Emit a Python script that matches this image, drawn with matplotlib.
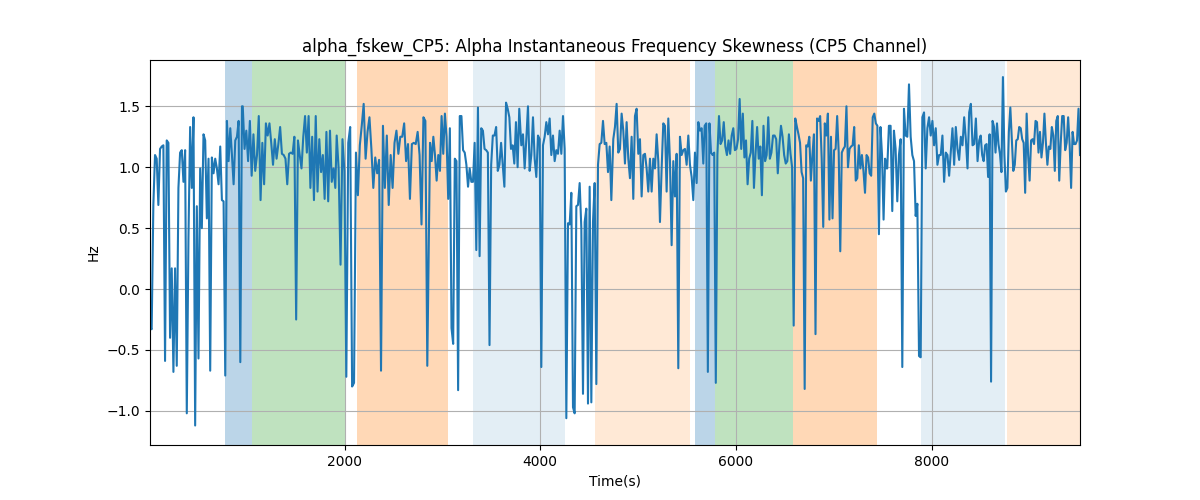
import numpy as np
import matplotlib
matplotlib.use("Agg")
import matplotlib.pyplot as plt

# signal values, in time order, in ten stretches;
# each stretch has its first/last time stamp (samples evenly spaced inside it)
piece_t0 = [11, 959, 1919, 2873, 3806, 4746, 5680, 6623, 7546, 8501]
piece_t1 = [951, 1905, 2845, 3785, 4726, 5666, 6606, 7540, 8486, 9516]

piece_values = [
    [-0.315, -0.33, 0.69, 1.1, 1.07, 0.69, 1.15, 1.17, 1.18, -0.59, 1.22, 1.2, -0.4, 0.17,
     -0.68, 0.17, -0.63, 0.83, 1.12, 1.14, 0.88, 1.14, -1.02, 0.42, 1.33, 0.83, 1.41, -1.12,
     0.68, -0.57, 0.99, 0.5, 1.27, 1.22, 0.58, 1.07, -0.67, 1.08, 0.95, 1.07, 0.99, 0.86,
     1.17, 0.73, 0.72, -0.71, 1.38, 1.05, 1.32, 1.1, 0.86, 1.22, 1.25, 1.38, -0.6, 1.5],
    [1.5, 1.15, 1.3, 1.05, 1.38, 0.93, 1.27, 0.97, 1.1, 1.42, 0.73, 1.2, 0.86, 1.36, 1.26,
     1.36, 1.2, 1.02, 1.23, 1.07, 1.19, 1.33, 1.11, 1.1, 1.07, 0.86, 1.11, 1.12, 1.11, 1.25,
     -0.25, 1.22, 1.1, 0.99, 1.25, 1.42, 1.12, 1.42, 0.83, 1.25, 0.73, 1.42, 0.8, 1.23, 0.96,
     1.1, 0.74, 1.29, 0.72, 1.3, 0.88, 0.99, 0.83],
    [1.26, 0.99, 0.2, 1.23, 0.97, -0.72, 1.2, 1.33, -0.8, -0.77, 1.12, 0.77, 1.18, 1.34,
     1.52, 1.07, 1.29, 1.41, 1.15, 0.83, 1.08, 0.95, 1.06, -0.67, 1.34, 0.83, 1.26, 0.69,
     1.1, 0.83, 1.2, 1.3, 1.11, 1.25, 1.25, 1.36, 1.05, 1.19, 0.74, 1.19, 1.2, 1.19, 1.29,
     1.1, 0.53, 1.41, 1.38, -0.63],
    [1.2, 1.05, 1.25, 1.1, 0.89, 1.1, 0.97, 1.42, 1.11, 1.44, 1.25, 0.74, 1.32, -0.32,
     -0.45, 1.07, 1.05, -0.83, 1.42, 1.42, 1.14, 1.12, 1.02, 0.84, 0.99, 0.88, 0.88, 1.2,
     0.32, 1.49, 0.27, 1.32, 1.3, 1.15, 1.14, 1.12, -0.46, 1.02, 1.26, 1.26, 1.33, 0.97,
     1.02, 1.2, 1.02, 0.84, 1.53, 1.48, 1.41, 1.15, 1.18, 1.03, 1.37, 1.0, 1.48],
    [1.18, 1.27, 0.99, 1.23, 1.5, 0.97, 1.1, 1.41, 1.07, 0.92, 1.26, 1.23, -0.64, 1.18,
     1.25, 1.37, 1.27, 1.4, 1.1, 1.26, 1.05, 1.14, 1.11, 1.3, 1.11, 1.42, 1.15, -1.06, 0.54,
     0.53, 0.79, -0.97, -1.02, 0.68, 0.69, 0.87, 0.5, -0.86, 0.55, 0.66, -0.94, 0.84, -0.93,
     0.55, 0.87, -0.78, 1.02, 1.19, 1.2, 1.38, 1.19, 1.2, 0.96, 1.17, 0.73],
    [1.23, 1.33, 1.52, 1.12, 1.15, 1.44, 1.3, 1.03, 1.37, 1.07, 0.91, 1.25, 0.74, 1.42,
     1.48, 1.11, 1.23, 0.76, 1.1, 1.11, 0.99, 0.8, 1.07, 0.8, 1.07, 0.99, 1.27, 1.05, 0.55,
     0.99, 1.36, 1.34, 0.8, 1.4, 1.05, 0.36, 1.05, 0.76, 1.11, -0.65, 1.25, 1.1, 1.14, 1.15,
     1.02, 1.26, 1.02, 0.92, 0.73, 1.12, 0.87, 1.37, 1.3, 1.32, 1.03],
    [1.34, 1.36, -0.68, 1.36, 1.12, 1.1, 1.12, -0.77, 1.1, 1.42, 1.19, 1.22, 1.37, 1.17,
     1.1, 1.22, 1.11, 1.26, 1.32, 1.14, 1.15, 1.23, 1.56, 1.15, 1.44, 1.08, 1.22, 0.86, 1.07,
     1.12, 1.38, 0.83, 1.11, 1.33, 1.07, 1.17, 0.77, 1.34, 1.05, 1.1, 1.41, 1.07, 1.12, 1.26,
     1.26, 1.23, 0.95, 1.18, 1.34, 1.25, 1.1, 1.03, 1.05, 1.27, 1.11, 1.0, -0.3, 1.4],
    [1.33, 1.27, 1.2, 0.96, 0.91, -0.82, 1.18, 1.17, 1.25, 0.89, 1.1, 1.27, -0.37, 1.4,
     1.38, 1.42, 1.07, 0.51, 1.36, 1.26, 1.44, 0.57, 1.25, 0.58, 1.14, 1.15, 1.42, 1.12,
     0.31, 1.12, 1.15, 1.17, 1.5, 1.0, 1.15, 1.17, 1.18, 1.33, 0.89, 0.91, 1.18, 0.99, 1.1,
     0.97, 0.79, 1.1, 1.08, 0.95, 0.93, 1.41, 1.44, 1.36, 1.34, 0.45, 1.33, 1.1, 0.57, 1.07,
     0.99],
    [0.99, 1.34, 1.34, 0.64, 1.3, 1.15, 0.72, 1.1, 1.23, -0.64, 1.48, 1.26, 1.25, 1.68,
     1.25, 1.1, 1.05, 0.6, 0.7, -0.55, -0.56, 1.41, 1.45, 0.99, 1.32, 1.41, 1.26, 1.38,
     1.18, 1.32, 1.02, 1.1, 1.1, 1.26, 0.88, 1.12, 1.1, 0.93, 1.12, 1.32, 1.02, 1.33, 1.15,
     1.06, 1.25, 1.18, 1.41, 1.23, 0.99, 1.45, 1.52, 1.18, 1.19, 1.4, 1.05, 1.22],
    [1.26, 1.1, 1.05, 1.18, 1.19, 0.92, 1.27, -0.76, 1.38, 1.33, 1.12, 1.36, 1.19,
     1.11, 0.96, 1.74, 1.1, 0.8, 0.83, 1.29, 1.49, 1.22, 0.97, 1.02, 1.22, 1.23, 1.33, 1.32,
     1.23, 1.2, 0.79, 1.44, 1.1, 0.89, 1.22, 1.23, 1.19, 1.38, 1.37, 1.12, 1.29, 1.08, 1.2,
     1.44, 1.2, 1.02, 1.17, 1.15, 1.33, 1.26, 0.97, 1.38, 1.42, 0.89, 1.2, 1.42, 1.42, 1.14,
     1.2, 1.41, 1.19, 0.83, 1.29, 1.19, 1.19, 1.22, 1.48, 1.1],
]

# shaded segments: (start, end, colour, alpha)
seg_start = [781, 1054, 2130, 3315, 4562, 5584, 5788, 6586, 7888, 8767]
seg_end = [1054, 2001, 3057, 4249, 5530, 5788, 6586, 7444, 8752, 9516]
seg_color = ["tab:blue", "tab:green", "tab:orange", "tab:blue", "tab:orange",
             "tab:blue", "tab:green", "tab:orange", "tab:blue", "tab:orange"]
seg_alpha = [0.3, 0.3, 0.3, 0.12, 0.17, 0.3, 0.3, 0.3, 0.12, 0.17]

time = np.concatenate([np.linspace(a, b, len(v))
                       for a, b, v in zip(piece_t0, piece_t1, piece_values)])
values = np.concatenate(piece_values)

fig, ax = plt.subplots(figsize=(12, 5))

for s, e, c, a in zip(seg_start, seg_end, seg_color, seg_alpha):
    ax.axvspan(s, e, color=c, alpha=a, linewidth=0)

ax.plot(time, values, color="tab:blue")

ax.set_xlim(time[0], time[-1])
ax.set_ylim(-1.28, 1.88)
ax.set_xlabel("Time(s)")
ax.set_ylabel("Hz")
ax.set_title("alpha_fskew_CP5: Alpha Instantaneous Frequency Skewness (CP5 Channel)")
ax.grid(True)

plt.savefig("out.png", dpi=100)
